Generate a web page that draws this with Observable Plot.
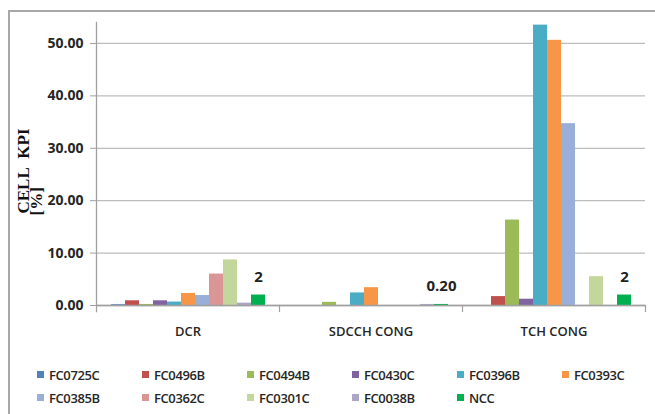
<!DOCTYPE html>
<html>
<head>
<meta charset="utf-8">
<script src="https://cdn.jsdelivr.net/npm/d3@7"></script>
<script src="https://cdn.jsdelivr.net/npm/@observablehq/plot@0.6"></script>
<style>
  html, body { margin: 0; padding: 0; background: #fff; }
  #wrap { position: relative; width: 655px; height: 414px; overflow: hidden; }
  #border { position: absolute; left: 8px; top: 10px; width: 700px; height: 450px;
            border-left: 2px solid #a8a8a8; border-top: 2px solid #a8a8a8; }
  #chart { position: absolute; left: 0; top: 0; }
  #legend { position: absolute; left: 37px; top: 363px; display: grid;
            grid-template-columns: repeat(6, 105px); grid-auto-rows: 23px;
            font-family: "Open Sans", sans-serif; font-size: 13px; font-weight: 600;
            color: #262626; letter-spacing: -0.4px; }
  .item { display: flex; align-items: center; white-space: nowrap; }
  .sw { width: 7px; height: 7px; margin-right: 5px; flex: none; }
</style>
</head>
<body>
<div id="wrap">
  <div id="border"></div>
  <div id="chart"></div>
  <div id="legend"></div>
</div>
<script>
const groups = ["DCR", "SDCCH CONG", "TCH CONG"];
const seriesNames = ["FC0725C", "FC0496B", "FC0494B", "FC0430C", "FC0396B", "FC0393C",
                     "FC0385B", "FC0362C", "FC0301C", "FC0038B", "NCC"];
const seriesColors = ["#4F81BD", "#C0504D", "#9BBB59", "#8064A2", "#4BACC6", "#F79646",
                      "#9AAFD8", "#D99694", "#C3D69B", "#ABA6C4", "#00B050"];

// values per series, in group order [DCR, SDCCH CONG, TCH CONG]
const FC0725C = [0.15, 0, 0];
const FC0496B = [0.9, 0, 1.7];
const FC0494B = [0.2, 0.6, 16.3];
const FC0430C = [0.9, 0, 1.2];
const FC0396B = [0.65, 2.4, 53.5];
const FC0393C = [2.3, 3.4, 50.6];
const FC0385B = [1.9, 0, 34.7];
const FC0362C = [6.0, 0, 0];
const FC0301C = [8.7, 0, 5.5];
const FC0038B = [0.45, 0.2, 0];
const NCC = [2, 0.2, 2];
const nccLabels = ["2", "0.20", "2"];

const yTicks = [0, 10, 20, 30, 40, 50];
const yTitle1 = "CELL\u00a0\u00a0KPI";
const yTitle2 = "[%]";

const seriesValues = [FC0725C, FC0496B, FC0494B, FC0430C, FC0396B, FC0393C,
                      FC0385B, FC0362C, FC0301C, FC0038B, NCC];
const rows = [];
seriesNames.forEach((s, i) => seriesValues[i].forEach((v, j) =>
  rows.push({group: groups[j], series: s, value: v})));
const labelRows = groups.map((g, j) => ({group: g, series: "NCC", value: NCC[j], text: nccLabels[j]}));

const sans = '"Open Sans", sans-serif';

const chart = Plot.plot({
  width: 655,
  height: 345,
  marginLeft: 96,
  marginRight: 10,
  marginTop: 22,
  marginBottom: 40,
  style: {fontFamily: sans, background: "transparent", overflow: "visible"},
  fx: {domain: groups, paddingInner: 0, paddingOuter: 0, label: null},
  x: {domain: seriesNames, paddingInner: 0, paddingOuter: 0.77, axis: null},
  y: {domain: [0, 54], label: null},
  color: {domain: seriesNames, range: seriesColors},
  marks: [
    Plot.gridY(yTicks, {stroke: "#bdbdbd", strokeOpacity: 1, strokeWidth: 1.3}),
    Plot.barY(rows, {fx: "group", x: "series", y: "value", fill: "series"}),
    Plot.ruleY([0], {stroke: "#a0a0a0", strokeWidth: 1.3}),
    Plot.frame({anchor: "right", insetTop: 283, insetBottom: -6, stroke: "#a0a0a0", strokeWidth: 1.2}),
    Plot.frame({anchor: "left", facet: "super", insetBottom: -6, stroke: "#a0a0a0", strokeWidth: 1.3}),
    Plot.axisY(yTicks, {tickFormat: d => d.toFixed(2), tickSize: 6, tickPadding: 7,
      fontSize: 14, fontWeight: "bold", fill: "#262626", stroke: "#a0a0a0", label: null}),
    Plot.axisFx({anchor: "bottom", tickSize: 0, tickPadding: 21, fontSize: 13, fontWeight: 600,
      fill: "#262626", label: null}),
    Plot.text(labelRows, {fx: "group", x: "series", y: "value", text: "text", dy: -18,
      fontSize: 15, fontWeight: "bold", fill: "#222"}),
    Plot.text([yTitle1], {fx: () => "DCR", frameAnchor: "bottom-left", rotate: -90,
      textAnchor: "start", dx: -68, dy: -92, fontFamily: '"Liberation Serif", serif',
      fontWeight: "bold", fontSize: 17, fill: "#111"}),
    Plot.text([yTitle2], {fx: () => "DCR", frameAnchor: "bottom-left", rotate: -90,
      textAnchor: "start", dx: -55, dy: -90, fontFamily: '"Liberation Serif", serif',
      fontWeight: "bold", fontSize: 17, fill: "#111"})
  ]
});
document.getElementById("chart").appendChild(chart);

const legend = document.getElementById("legend");
seriesNames.forEach((s, i) => {
  const item = document.createElement("div");
  item.className = "item";
  const sw = document.createElement("span");
  sw.className = "sw";
  sw.style.background = seriesColors[i];
  item.appendChild(sw);
  item.appendChild(document.createTextNode(s));
  legend.appendChild(item);
});
</script>
</body>
</html>
